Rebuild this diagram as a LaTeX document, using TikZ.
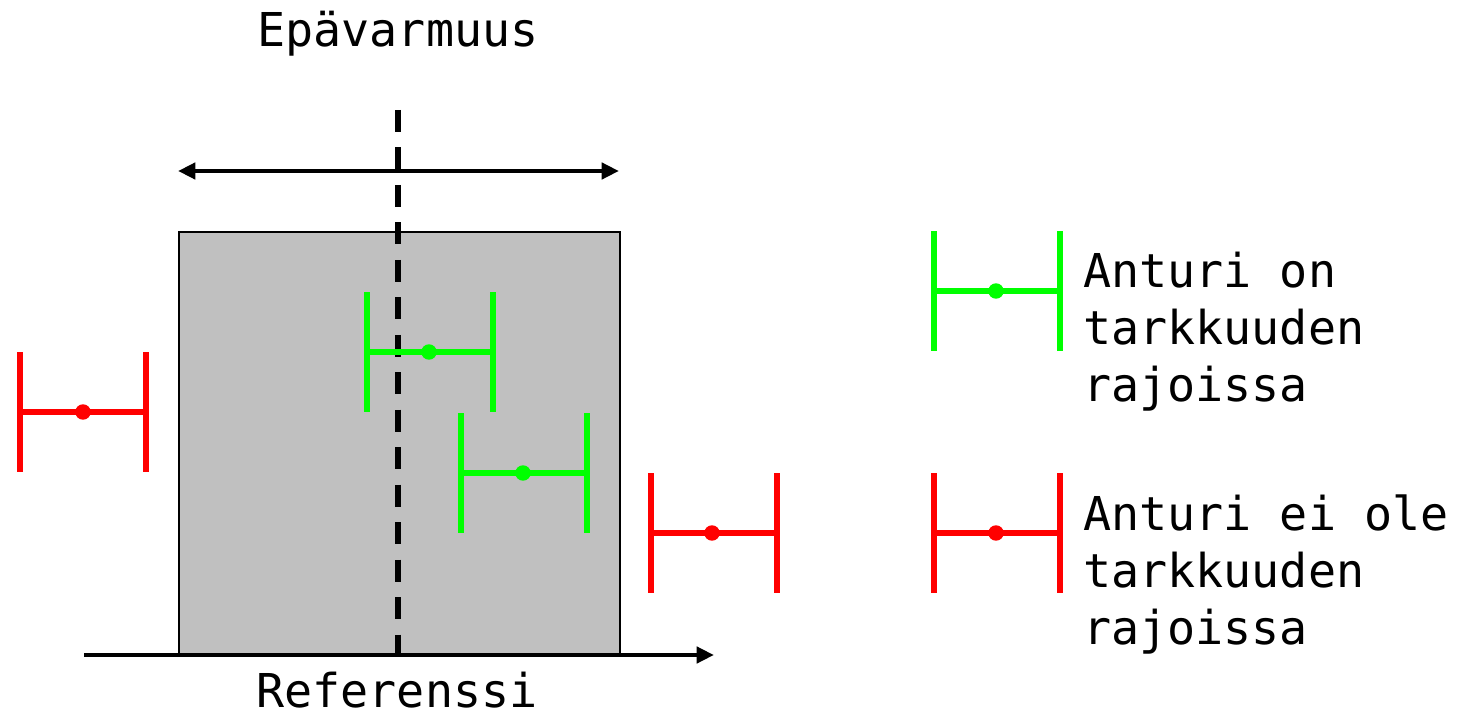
\documentclass[tikz,border=0pt]{standalone}
\usepackage{fontspec}
\setmonofont{DejaVu Sans Mono}
\usetikzlibrary{arrows.meta,calc}
\definecolor{okgreen}{RGB}{0,255,0}
\definecolor{badred}{RGB}{255,0,0}
\definecolor{boxgray}{RGB}{192,192,192}
\tikzset{
  lbl/.style={font=\ttfamily\fontsize{35}{42.75}\selectfont, inner sep=0pt},
  tip/.style={Triangle[length=13pt,width=12pt]},
  axisline/.style={line width=3.6pt, -{Triangle[length=13pt,width=12pt]}},
  ebarline/.style={line width=4pt},
  refline/.style={line width=3.8pt, dash pattern=on 16.5pt off 11.6pt},
}
\newcommand\errbar[4]{% name, x of left bar, y center, color
  \coordinate (#1L) at (#2,#3);
  \coordinate (#1R) at ($(#2,#3)+(126,0)$);
  \draw[ebarline,#4] ($(#1L)+(0,-60)$) -- ($(#1L)+(0,60)$);
  \draw[ebarline,#4] ($(#1R)+(0,-60)$) -- ($(#1R)+(0,60)$);
  \draw[ebarline,#4] (#1L) -- (#1R);
}
\begin{document}
\begin{tikzpicture}[x=0.75pt,y=-0.75pt]
\useasboundingbox (0,0) rectangle (1461,717);
% gray box
\node[draw=black, line width=1.3pt, fill=boxgray, minimum width=441*0.75pt, minimum height=424*0.75pt, inner sep=0pt, anchor=north west] (box) at (178,231) {};
% uncertainty arrow
\coordinate (ua) at (178,171);
\coordinate (ub) at (619,171);
\draw[line width=3.6pt, {Triangle[length=13pt,width=12pt]}-{Triangle[length=13pt,width=12pt]}] (ua) -- (ub);
% axis
\coordinate (xa) at (84,655);
\coordinate (xb) at (714,655);
\draw[axisline] (xa) -- (xb);
% dashed reference line
\coordinate (da) at (398,110);
\coordinate (db) at (398,655);
\draw[refline] (da) -- (db);
% labels
\node[lbl] (title) at (398,34) {Epävarmuus};
\node[lbl] (xlabel) at (397,690) {Referenssi};
% error bars
\errbar{g1}{367}{352}{okgreen}
\fill[okgreen] (429,352) circle (5.8pt);
\errbar{g2}{461}{473}{okgreen}
\fill[okgreen] (523,473) circle (5.8pt);
\errbar{r1}{20}{412}{badred}
\fill[badred] (83,412) circle (5.8pt);
\errbar{r2}{651}{533}{badred}
\fill[badred] (712,533) circle (5.8pt);
% legend
\errbar{lg}{934}{291}{okgreen}
\fill[okgreen] (996,291) circle (5.8pt);
\errbar{lr}{934}{533}{badred}
\fill[badred] (996,533) circle (5.8pt);
\node[lbl, anchor=west, align=left] (lgt) at (1083,332) {Anturi on\\tarkkuuden\\rajoissa};
\node[lbl, anchor=west, align=left] (lrt) at (1083,574) {Anturi ei ole\\tarkkuuden\\rajoissa};
\end{tikzpicture}
\end{document}
